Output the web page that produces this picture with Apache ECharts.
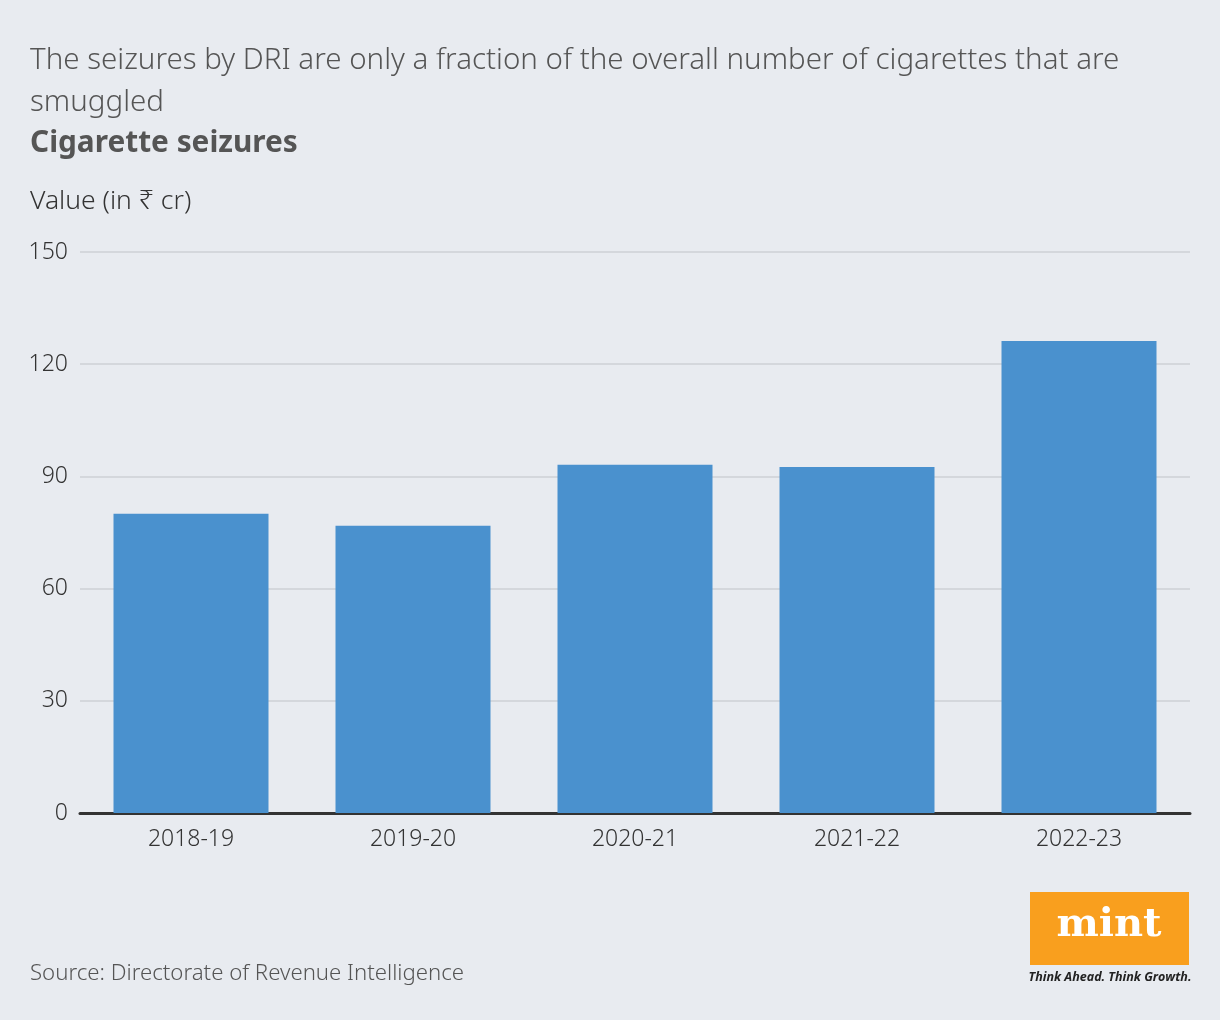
<!DOCTYPE html>
<html>
<head>
<meta charset="utf-8">
<script src="https://cdn.jsdelivr.net/npm/echarts@6/dist/echarts.min.js"></script>
<style>
html,body{margin:0;padding:0;background:#e8ebf0;}
#chart{width:1220px;height:1020px;}
</style>
</head>
<body>
<div id="chart"></div>
<script>
const categories = ['2018-19', '2019-20', '2020-21', '2021-22', '2022-23'];
const seizureValues = [80.0, 76.8, 93.1, 92.5, 126.2];
const yTicks = [0, 30, 60, 90, 120, 150];

const FONT = '"Noto Sans", sans-serif';
const chart = echarts.init(document.getElementById('chart'));
chart.setOption({
  backgroundColor: '#e8ebf0',
  animation: false,
  title: [
    { text: 'The seizures by DRI are only a fraction of the overall number of cigarettes that are\nsmuggled',
      left: 25, top: 35,
      textStyle: { fontFamily: FONT, fontSize: 29.5, fontWeight: 300, color: '#555', lineHeight: 42 } },
    { text: 'Cigarette seizures', left: 25, top: 124,
      textStyle: { fontFamily: FONT, fontSize: 29.8, fontWeight: 'bold', color: '#555' } },
    { text: 'Value (in ₹ cr)', left: 25, top: 183,
      textStyle: { fontFamily: FONT, fontSize: 26.5, fontWeight: 300, color: '#333' } },
    { text: 'Source: Directorate of Revenue Intelligence', left: 25, top: 958,
      textStyle: { fontFamily: FONT, fontSize: 22.2, fontWeight: 300, color: '#555' } }
  ],
  graphic: [
    { type: 'rect', shape: { x: 1030, y: 892, width: 159, height: 73 }, style: { fill: '#f99f1e' } },
    { type: 'text', x: 1109, y: 926, style: { text: 'mint', fill: '#fff', font: 'bold 40px "DejaVu Serif", serif', align: 'center', verticalAlign: 'middle' } },
    { type: 'text', x: 1110, y: 977, style: { text: 'Think Ahead. Think Growth.', fill: '#222', font: 'italic bold 12.5px "Open Sans", sans-serif', align: 'center', verticalAlign: 'middle' } }
  ],
  grid: { left: 80, right: 30, top: 252, bottom: 207, containLabel: false },
  xAxis: {
    type: 'category',
    data: categories,
    axisLine: { lineStyle: { color: '#333', width: 3 } },
    axisTick: { show: false },
    axisLabel: { fontFamily: FONT, fontSize: 23, fontWeight: 300, color: '#333', margin: 15 }
  },
  yAxis: {
    type: 'value',
    min: yTicks[0], max: yTicks[yTicks.length - 1], interval: 30,
    axisLine: { show: false },
    axisTick: { show: false },
    axisLabel: { fontFamily: FONT, fontSize: 23, fontWeight: 300, color: '#333', margin: 12 },
    splitLine: { lineStyle: { color: '#d4d7dc', width: 2 } }
  },
  series: [{
    type: 'bar',
    data: seizureValues,
    barWidth: 155,
    itemStyle: { color: '#4a91ce' }
  }]
});
</script>
</body>
</html>
